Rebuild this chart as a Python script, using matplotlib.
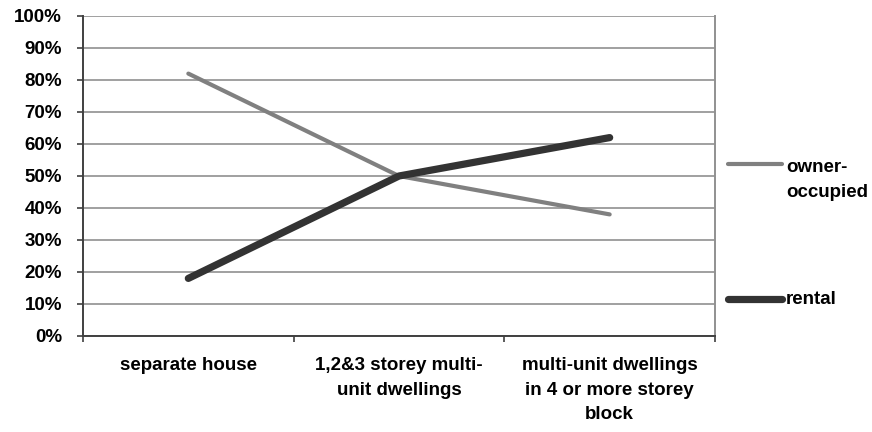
import numpy as np
import matplotlib
matplotlib.use('Agg')
import matplotlib.pyplot as plt
from matplotlib.lines import Line2D
from matplotlib.ticker import FixedLocator, PercentFormatter

plt.rcParams['font.family'] = ['Liberation Sans', 'DejaVu Sans']
plt.rcParams['font.weight'] = 'bold'

# data
categories = ['separate house',
              '1,2&3 storey multi-\nunit dwellings',
              'multi-unit dwellings\nin 4 or more storey\nblock']
series_names = ['owner-\noccupied', 'rental']
owner_occupied = [82, 50, 38]
rental = [18, 50, 62]

FS = 13.5
fig = plt.figure(figsize=(8.72, 4.32), dpi=100)
ax = fig.add_axes([83 / 872, 1 - 336 / 432, (715 - 83) / 872, 320 / 432])

x = np.arange(len(categories)) + 0.5
styles = [dict(color='#808080', lw=3.0), dict(color='#333333', lw=5.2)]
for vals, st, z in zip([owner_occupied, rental], styles, [3, 4]):
    ax.plot(x, vals, solid_capstyle='round', zorder=z, **st)

ax.set_xlim(0, len(categories))
ax.set_ylim(0, 100)
ax.yaxis.set_major_locator(FixedLocator(np.arange(0, 101, 10)))
ax.yaxis.set_major_formatter(PercentFormatter(decimals=0))
ax.grid(axis='y', color='#a0a0a0', lw=1.4)
ax.set_axisbelow(True)

ax.xaxis.set_major_locator(FixedLocator(np.arange(0, len(categories) + 1)))
ax.xaxis.set_major_formatter(plt.NullFormatter())
ax.xaxis.set_minor_locator(FixedLocator(x))
ax.set_xticklabels(categories, minor=True, fontsize=FS, fontweight='bold',
                   linespacing=1.6, va='top')
ax.tick_params(axis='x', which='minor', length=0, pad=15)
ax.tick_params(axis='x', which='major', length=4, width=1.2, color='#404040',
               direction='out')
ax.tick_params(axis='y', length=4, width=1.2, color='#404040', pad=11,
               labelsize=FS)

for side in ['left', 'bottom']:
    ax.spines[side].set_color('#404040')
    ax.spines[side].set_linewidth(1.4)
ax.spines['top'].set_visible(False)
ax.spines['right'].set_color('#909090')
ax.spines['right'].set_linewidth(1.4)

# legend laid out like the Excel one: key aligned with first text line
key_y = [0.5375, 0.1156]
text_y = [0.488, 0.1156]
for name, st, ky, ty in zip(series_names, styles, key_y, text_y):
    ax.add_line(Line2D([1.0206, 1.106], [ky, ky], transform=ax.transAxes,
                       clip_on=False, solid_capstyle='round', **st))
    ax.text(1.112, ty, name, transform=ax.transAxes, fontsize=FS,
            fontweight='bold', va='center', ha='left', linespacing=1.6)

fig.savefig('out.png', dpi=100)
